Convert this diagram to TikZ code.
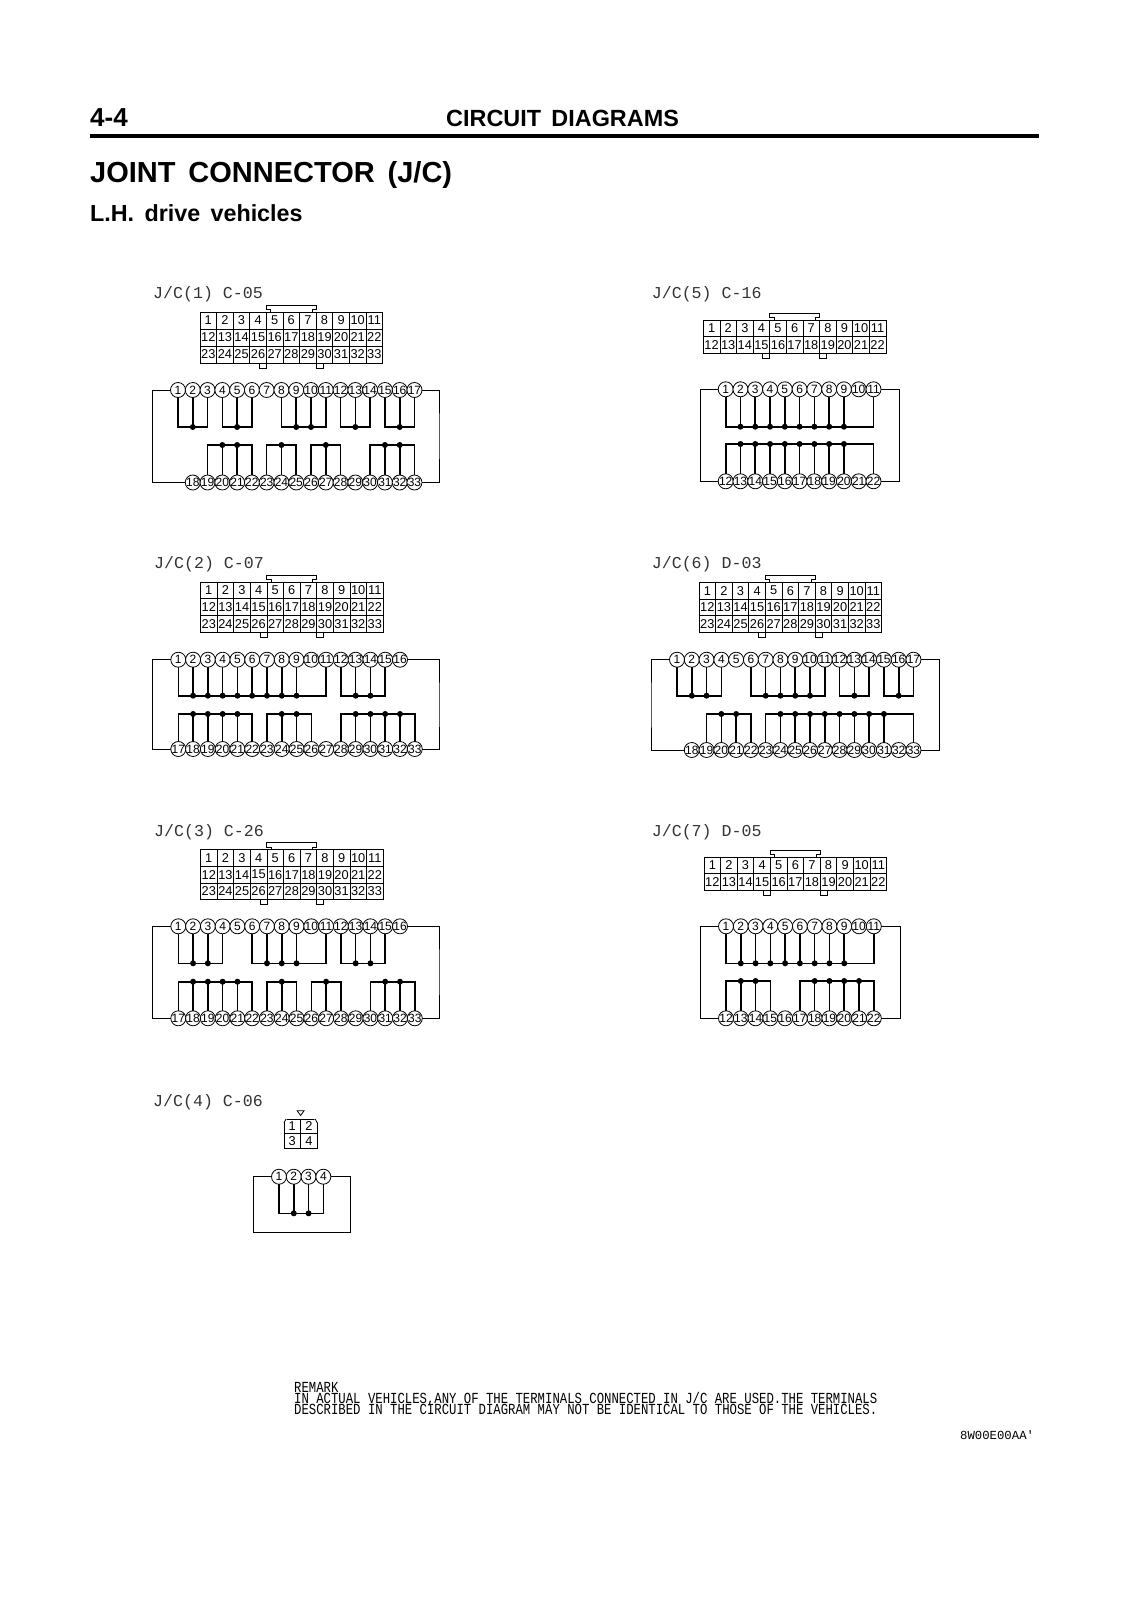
\documentclass[tikz,border=0pt]{standalone}
\usepackage{graphicx}
\usepackage{fontspec}
\setmainfont{Liberation Sans}
\newfontfamily\labelfont{Liberation Mono}
\usetikzlibrary{positioning}

\tikzset{
    cell/.style={draw, line width=0.8pt, rectangle, inner sep=0pt, outer sep=0pt, font=\fontsize{12.8}{12.8}\selectfont},
    pin/.style={draw, circle, line width=0.8pt, fill=white, inner sep=-1pt, outer sep=0pt, minimum size=15pt, font=\fontsize{12}{12}\selectfont},
    joint/.style={circle, fill=black, inner sep=0pt, minimum size=6pt},
    bus/.style={line width=1.6pt},
    frame/.style={line width=0.8pt},
    jclabel/.style={anchor=base west, inner sep=0pt, font=\labelfont\fontsize{16.6}{16.6}\selectfont, text=black!80},
    head/.style={anchor=base west, inner sep=0pt, font=\bfseries\fontsize{#1}{#1}\selectfont},
    remark/.style={anchor=base west, inner sep=0pt, font=\labelfont\fontsize{12.3}{12.3}\selectfont}
}

% table of terminals: name, x, y, columns, rows, cell height
\newcommand{\jctable}[6]{
    \foreach \r in {1,...,#5} {
        \foreach \c in {1,...,#4} {
            \pgfmathtruncatemacro{\n}{\c+(\r-1)*#4}
            \node[cell, minimum width=16.6pt, minimum height=#6pt] (#1-\n)
                at ({#2+(\c-0.5)*16.6}, {#3+(\r-0.5)*#6}) {\n};
        }
    }
}

% key on top, two tabs below: table x, table top y, table bottom y
\newcommand{\jckey}[3]{
    \draw[frame] (#1+70.7,#2) -- (#1+70.7,#2-2.5) -- (#1+66,#2-2.5) -- (#1+66,#2-7)
        -- (#1+116,#2-7) -- (#1+116,#2-2.5) -- (#1+112,#2-2.5) -- (#1+112,#2);
    \draw[frame] (#1+59.5,#3) -- (#1+59.5,#3+5) -- (#1+66.4,#3+5) -- (#1+66.4,#3);
    \draw[frame] (#1+116.2,#3) -- (#1+116.2,#3+5) -- (#1+123,#3+5) -- (#1+123,#3);
}

% row of pins: name, x of first place, y, first, last, places skipped
\newcommand{\jcpins}[6]{
    \foreach \n in {#4,...,#5} {
        \node[pin] (#1-\n) at ({#2+(\n-#4+#6)*14.78}, #3) {\n};
    }
}

% wires to a bus bar: name, first, last, bar, pins with a joint
\newcommand{\jcbus}[5]{
    \draw[bus] (#1-#2) -- (#1-#2 |- #4) -- (#1-#3 |- #4) -- (#1-#3);
    \foreach \n in {#5} {
        \draw[bus] (#1-\n) -- (#1-\n |- #4) node[joint, pos=1] (#1-d\n) {};
    }
}

\begin{document}
\begin{tikzpicture}[x=1pt, y=-1pt]
    \useasboundingbox (0,0) rectangle (1131,1600);

    % Page head
    \node[head=26] (page) at (90,126.5) {4-4};
    \node[head=23.4] (chapter) at (446,126.5) {CIRCUIT\, DIAGRAMS};
    \coordinate (ruleL) at (90,136);
    \coordinate (ruleR) at (1039,136);
    \draw[line width=3.2pt] (ruleL) -- (ruleR);
    \node[head=29] (title) at (90,182) {JOINT\, CONNECTOR\, (J/C)};
    \node[head=23.3] (subtitle) at (90,221.5) {L.H.\, drive\, vehicles};

    % J/C (1)
    \node[jclabel] (name1) at (153,298) {J/C(1) C-05};
    \jctable{t1}{200}{312}{11}{3}{17}
    \jckey{200}{312}{363}
    \jcpins{p1}{178}{390}{1}{17}{0}
    \jcpins{p1}{178}{482.5}{18}{33}{1}
    \coordinate (p1top) at (0,427);
    \coordinate (p1bot) at (0,445);
    \coordinate (p1l) at (152.7,436);
    \coordinate (p1r) at (439,436);
    \draw[frame] (p1-1) -| (p1l) |- (p1-18);
    \draw[frame] (p1-17) -| (p1r) |- (p1-33);
    \jcbus{p1}{1}{3}{p1top}{2}
    \jcbus{p1}{4}{6}{p1top}{5}
    \jcbus{p1}{8}{11}{p1top}{9,10}
    \jcbus{p1}{12}{14}{p1top}{13}
    \jcbus{p1}{15}{17}{p1top}{16}
    \jcbus{p1}{19}{22}{p1bot}{20,21}
    \jcbus{p1}{23}{25}{p1bot}{24}
    \jcbus{p1}{26}{28}{p1bot}{27}
    \jcbus{p1}{30}{33}{p1bot}{31,32}

    % J/C (2)
    \node[jclabel] (name2) at (154,568.5) {J/C(2) C-07};
    \jctable{t2}{200.5}{582}{11}{3}{16.7}
    \jckey{200.5}{582}{632}
    \jcpins{p2}{178.3}{659.7}{1}{16}{0}
    \jcpins{p2}{178.3}{749}{17}{33}{0}
    \coordinate (p2top) at (0,695.7);
    \coordinate (p2bot) at (0,714);
    \coordinate (p2l) at (152.7,705);
    \coordinate (p2r) at (439,705);
    \draw[frame] (p2-1) -| (p2l) |- (p2-17);
    \draw[frame] (p2-16) -| (p2r) |- (p2-33);
    \jcbus{p2}{1}{11}{p2top}{2,3,4,5,6,7,8,9}
    \jcbus{p2}{12}{15}{p2top}{13,14}
    \jcbus{p2}{17}{22}{p2bot}{18,19,20,21}
    \jcbus{p2}{23}{26}{p2bot}{24,25}
    \jcbus{p2}{28}{33}{p2bot}{29,30,31,32}

    % J/C (3)
    \node[jclabel] (name3) at (154,836) {J/C(3) C-26};
    \jctable{t3}{200.5}{849.7}{11}{3}{16.6}
    \jckey{200.5}{849.7}{899.5}
    \jcpins{p3}{178.3}{926.3}{1}{16}{0}
    \jcpins{p3}{178.3}{1018.3}{17}{33}{0}
    \coordinate (p3top) at (0,963.3);
    \coordinate (p3bot) at (0,981.7);
    \coordinate (p3l) at (152.7,972);
    \coordinate (p3r) at (439,972);
    \draw[frame] (p3-1) -| (p3l) |- (p3-17);
    \draw[frame] (p3-16) -| (p3r) |- (p3-33);
    \jcbus{p3}{1}{4}{p3top}{2,3}
    \jcbus{p3}{6}{11}{p3top}{7,8,9}
    \jcbus{p3}{12}{15}{p3top}{13,14}
    \jcbus{p3}{17}{22}{p3bot}{18,19,20,21}
    \jcbus{p3}{23}{25}{p3bot}{24}
    \jcbus{p3}{26}{28}{p3bot}{27}
    \jcbus{p3}{30}{33}{p3bot}{31,32}

    % J/C (4)
    \node[jclabel] (name4) at (153,1106) {J/C(4) C-06};
    \jctable{t4}{284}{1119}{2}{2}{14.7}
    % chamfered top corners
    \fill[white] (283,1118) -- (288,1118) -- (283,1123) -- cycle;
    \fill[white] (318.2,1118) -- (313.2,1118) -- (318.2,1123) -- cycle;
    \draw[frame] (284,1123) -- (286,1119);
    \draw[frame] (317.2,1123) -- (315.2,1119);
    \coordinate (tipA) at (300.6,1115.5);
    \coordinate (tipB) at (297.2,1110.8);
    \coordinate (tipC) at (304,1110.8);
    \draw[frame] (tipA) -- (tipB) -- (tipC) -- cycle;
    \jcpins{p4}{279}{1176.7}{1}{4}{0}
    \coordinate (p4top) at (0,1213.3);
    \coordinate (p4l) at (253.3,1232.5);
    \coordinate (p4r) at (350,1232.5);
    \draw[frame] (p4-1) -| (p4l) -- (p4r) |- (p4-4);
    \jcbus{p4}{1}{4}{p4top}{2,3}

    % J/C (5)
    \node[jclabel] (name5) at (651.7,298) {J/C(5) C-16};
    \jctable{t5}{703.3}{320}{11}{2}{16.7}
    \jckey{703.3}{320}{353.4}
    \jcpins{p5}{725.7}{389.3}{1}{11}{0}
    \jcpins{p5}{725.7}{481.3}{12}{22}{0}
    \coordinate (p5top) at (0,426.7);
    \coordinate (p5bot) at (0,444);
    \coordinate (p5l) at (700,435);
    \coordinate (p5r) at (899.3,435);
    \draw[frame] (p5-1) -| (p5l) |- (p5-12);
    \draw[frame] (p5-11) -| (p5r) |- (p5-22);
    \jcbus{p5}{1}{11}{p5top}{2,3,4,5,6,7,8,9}
    \jcbus{p5}{12}{22}{p5bot}{13,14,15,16,17,18,19,20}

    % J/C (6)
    \node[jclabel] (name6) at (651.7,568.5) {J/C(6) D-03};
    \jctable{t6}{699}{582.3}{11}{3}{16.6}
    \jckey{699}{582.3}{632}
    \jcpins{p6}{677}{659.7}{1}{17}{0}
    \jcpins{p6}{677}{750}{18}{33}{1}
    \coordinate (p6top) at (0,695.7);
    \coordinate (p6bot) at (0,714);
    \coordinate (p6l) at (651,705);
    \coordinate (p6r) at (939,705);
    \draw[frame] (p6-1) -| (p6l) |- (p6-18);
    \draw[frame] (p6-17) -| (p6r) |- (p6-33);
    \jcbus{p6}{1}{4}{p6top}{2,3}
    \jcbus{p6}{6}{11}{p6top}{7,8,9,10}
    \jcbus{p6}{12}{14}{p6top}{13}
    \jcbus{p6}{15}{17}{p6top}{16}
    \jcbus{p6}{19}{22}{p6bot}{20,21}
    \jcbus{p6}{23}{33}{p6bot}{24,25,26,27,28,29,30,31}

    % J/C (7)
    \node[jclabel] (name7) at (651.7,836) {J/C(7) D-05};
    \jctable{t7}{704}{857.3}{11}{2}{16.4}
    \jckey{704}{857.3}{890}
    \jcpins{p7}{726}{926.3}{1}{11}{0}
    \jcpins{p7}{726}{1018.3}{12}{22}{0}
    \coordinate (p7top) at (0,963.3);
    \coordinate (p7bot) at (0,981);
    \coordinate (p7l) at (700.7,972);
    \coordinate (p7r) at (900,972);
    \draw[frame] (p7-1) -| (p7l) |- (p7-12);
    \draw[frame] (p7-11) -| (p7r) |- (p7-22);
    \jcbus{p7}{1}{11}{p7top}{2,3,4,5,6,7,8,9}
    \jcbus{p7}{12}{15}{p7bot}{13,14}
    \jcbus{p7}{17}{22}{p7bot}{18,19,20,21}

    % Remark
    \node[remark] (remark1) at (294,1392.5) {\scalebox{1}[1.25]{REMARK}};
    \node[remark] (remark2) at (294,1403.5) {\scalebox{1}[1.25]{IN ACTUAL VEHICLES,ANY OF THE TERMINALS CONNECTED IN J/C ARE USED.THE TERMINALS}};
    \node[remark] (remark3) at (294,1414.5) {\scalebox{1}[1.25]{DESCRIBED IN THE CIRCUIT DIAGRAM MAY NOT BE IDENTICAL TO THOSE OF THE VEHICLES.}};
    \node[remark] (code) at (960,1439) {8W00E00AA'};
\end{tikzpicture}
\end{document}
